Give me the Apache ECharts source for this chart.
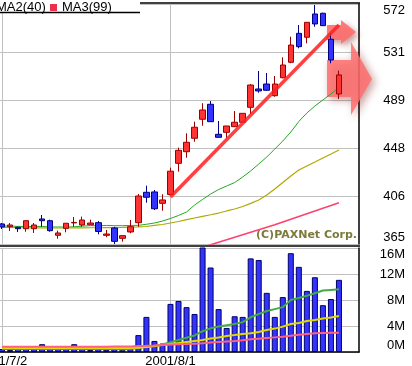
<!DOCTYPE html>
<html><head><meta charset="utf-8">
<script src="https://cdn.jsdelivr.net/npm/echarts@6/dist/echarts.min.js"></script>
<style>html,body{margin:0;padding:0;background:#fff}#c{width:412px;height:366px}</style>
</head><body><div id="c"></div>
<script>
// ---- data ----
const dates = ['2001/7/2','2001/7/3','2001/7/4','2001/7/5','2001/7/6','2001/7/9','2001/7/10','2001/7/11','2001/7/12','2001/7/13',
  '2001/7/16','2001/7/18','2001/7/19','2001/7/20','2001/7/23','2001/7/24','2001/7/25','2001/7/26','2001/7/27','2001/7/30',
  '2001/7/31','2001/8/1','2001/8/2','2001/8/3','2001/8/6','2001/8/7','2001/8/8','2001/8/9','2001/8/10','2001/8/13',
  '2001/8/14','2001/8/16','2001/8/17','2001/8/20','2001/8/21','2001/8/22','2001/8/23','2001/8/24','2001/8/27','2001/8/28',
  '2001/8/29','2001/8/30','2001/8/31','',''];
const labelDates = ['2001/7/2','2001/8/1'];
const opens  = [382.3,379.9,379.4,378.2,378.2,386.6,385.1,372.5,378.5,383.2,381.4,381.6,383.4,372.5,378.8,369.9,375.4,383.4,409.6,409.9,400.1,407.7,434.6,444.6,456.2,472.6,485.5,459.6,461.3,466.2,470.0,482.9,498.7,503.0,492.9,508.4,521.7,546.7,543.3,563.4,564.0,541.6,494.4];
const closes = [379.7,381.4,378.2,385.1,381.4,385.1,376.5,374.5,382.9,383.6,385.7,383.1,375.8,373.6,367.3,372.2,379.9,406.4,405.3,395.4,403.0,427.8,445.8,452.7,465.7,480.6,470.5,457.0,466.8,470.0,477.7,502.1,497.0,497.6,503.0,519.4,536.6,535.2,556.2,554.8,553.3,523.7,510.8];
const lows   = [377.9,376.2,375.4,375.6,374.5,379.9,375.6,369.6,375.1,379.9,379.9,381.6,373.4,370.8,365.0,367.0,374.2,379.9,400.6,394.3,393.7,407.7,427.4,439.4,453.2,467.0,470.5,457.0,456.2,466.2,470.0,477.1,495.5,497.2,492.0,507.9,520.9,533.8,538.1,552.4,553.3,520.9,490.1];
const highs  = [383.1,383.1,379.9,385.1,383.1,390.0,386.0,376.5,382.9,388.3,388.6,386.0,384.8,377.1,379.9,372.2,385.7,408.1,415.3,411.6,407.9,430.8,448.1,460.5,470.5,486.4,488.3,471.1,466.8,479.7,477.7,503.0,514.2,512.5,509.9,526.0,543.8,553.9,556.2,571.1,564.5,546.7,514.5];
const ma1 = [380.5,380.5,380.2,380.1,380.1,380.2,379.6,379.7,379.5,379.9,380.4,380.8,380.8,381.0,380.8,380.8,381.0,381.1,382.0,383.1,384.8,387.0,389.6,392.6,398.6,403.4,408.1,412.0,415.0,418.0,422.8,428.0,434.0,440.0,446.9,453.8,461.6,470.7,478.0,484.0,489.2,494.4,500.0];
const ma2 = [379.4,379.3,379.1,379.0,378.9,378.9,378.8,378.8,378.8,378.9,378.9,379.0,379.0,379.1,379.2,379.3,379.5,379.7,380.1,381.0,381.8,383.1,384.4,386.0,387.4,388.8,390.2,391.7,393.5,395.2,397.3,400.0,403.0,407.3,412.4,418.0,423.7,428.8,432.3,435.7,439.2,442.6,446.1];
const ma3 = [342.0,342.5,343.0,343.4,343.9,344.3,344.8,345.2,345.7,346.1,346.6,347.0,347.5,348.0,348.5,349.0,349.6,350.3,351.2,352.3,353.5,354.9,356.4,358.0,359.8,362.1,364.3,366.5,368.6,370.8,373.0,375.2,377.3,379.5,381.7,384.0,386.3,388.7,391.1,393.5,395.9,398.2,400.6];
const volumes = [0.45,0.3,0.55,0.5,0.55,1.2,0.7,0.5,0.55,1.2,0.7,0.3,0.55,0.35,0.55,0.35,0.5,2.6,5.4,1.7,1.3,7.4,7.85,6.9,5.85,16.1,13.0,6.6,3.7,5.5,5.4,14.4,14.15,9.1,5.4,8.45,15.2,13.1,9.4,11.5,7.2,8.15,11.1];
const vma1 = [0.45,0.45,0.44,0.45,0.46,0.47,0.46,0.46,0.46,0.47,0.46,0.45,0.45,0.45,0.45,0.44,0.45,0.6,0.75,0.9,1.15,1.5,1.85,2.2,2.55,3.2,3.64,3.93,4.1,4.3,4.6,5.34,5.85,6.3,6.6,6.9,8.0,8.3,8.65,9.05,9.45,9.55,9.65];
const vma2 = [0.6,0.6,0.6,0.6,0.6,0.6,0.6,0.6,0.6,0.6,0.6,0.6,0.6,0.6,0.6,0.6,0.62,0.66,0.77,0.92,1.08,1.23,1.38,1.54,1.7,1.85,2.08,2.23,2.46,2.6,2.77,2.88,3.08,3.38,3.6,3.9,4.3,4.46,4.77,4.92,5.15,5.3,5.54];
const vma3 = [0.82,0.82,0.82,0.82,0.82,0.82,0.82,0.82,0.82,0.82,0.82,0.82,0.82,0.82,0.83,0.84,0.86,0.92,0.95,1.0,1.08,1.15,1.2,1.23,1.28,1.34,1.45,1.54,1.62,1.7,1.82,1.95,2.05,2.15,2.25,2.35,2.5,2.66,2.78,2.88,2.92,2.95,2.97];
const trendStart = ['2001/8/1', 405.5];
const trendEnd = [41.9, 553.9];

// ---- chart ----
const candles = opens.map((o, i) => [o, closes[i], lows[i], highs[i]]);
const axisFont = 'Liberation Sans Narrow, Arial Narrow, Liberation Sans, Arial, sans-serif';
const chart = echarts.init(document.getElementById('c'), null, {renderer: 'canvas'});
const vline = {
  silent: true, symbol: ['none', 'none'], z: 1, animation: false,
  label: {show: false}, lineStyle: {color: '#c0c0c0', width: 1, type: 'solid'},
  data: labelDates.map(d => ({xAxis: d}))
};
chart.setOption({
  animation: false,
  backgroundColor: '#ffffff',
  grid: [
    {left: -2, width: 361, top: 4, height: 240, containLabel: false, outerBoundsMode: 'none'},
    {left: -2, width: 361, top: 248, height: 104, containLabel: false, outerBoundsMode: 'none'}
  ],
  xAxis: [
    {type: 'category', gridIndex: 0, data: dates, boundaryGap: true,
      axisLine: {show: false}, axisTick: {show: false}, axisLabel: {show: false}, splitLine: {show: false}},
    {type: 'category', gridIndex: 1, data: dates, boundaryGap: true,
      axisLine: {show: true, lineStyle: {color: '#000', width: 1.5}}, axisTick: {show: false},
      axisLabel: {show: true, interval: (i, v) => labelDates.indexOf(v) >= 0, margin: 3,
        color: '#000', fontSize: 13, fontFamily: axisFont, showMinLabel: true, hideOverlap: false},
      splitLine: {show: false}}
  ],
  yAxis: [
    {type: 'value', gridIndex: 0, position: 'right', min: 365, max: 572, interval: 41.4,
      axisLine: {show: true, lineStyle: {color: '#000', width: 1.5}}, axisTick: {show: false},
      axisLabel: {color: '#000', fontSize: 13, fontFamily: axisFont, align: 'right', margin: 46,
        formatter: v => String(Math.round(v)), verticalAlignMaxLabel: 'top', verticalAlignMinLabel: 'bottom'},
      splitLine: {show: true, lineStyle: {color: '#c0c0c0', width: 1}}},
    {type: 'value', gridIndex: 1, position: 'right', min: 0, max: 16, interval: 4,
      axisLine: {show: true, lineStyle: {color: '#000', width: 1.5}}, axisTick: {show: false},
      axisLabel: {color: '#000', fontSize: 13, fontFamily: axisFont, align: 'right', margin: 46,
        formatter: v => Math.round(v) + 'M', verticalAlignMaxLabel: 'top', verticalAlignMinLabel: 'bottom'},
      splitLine: {show: true, lineStyle: {color: '#c0c0c0', width: 1}}}
  ],
  series: [
    {type: 'candlestick', name: 'price', xAxisIndex: 0, yAxisIndex: 0, data: candles, barWidth: 6, z: 3,
      itemStyle: {color: '#ff3333', color0: '#3333ff', borderColor: '#990000', borderColor0: '#000080', borderWidth: 1},
      markLine: vline},
    {type: 'line', name: 'trend', xAxisIndex: 0, yAxisIndex: 0, data: [], z: 4,
      markLine: {silent: true, symbol: ['none', 'none'], z: 4, label: {show: false},
        lineStyle: {color: 'rgba(255,30,30,0.85)', width: 3.5, type: 'solid'},
        data: [[{coord: trendStart}, {coord: trendEnd}]]}},
    {type: 'line', name: 'MA1', xAxisIndex: 0, yAxisIndex: 0, data: ma1, showSymbol: false, z: 2,
      lineStyle: {color: '#22aa22', width: 1}},
    {type: 'line', name: 'MA2(40)', xAxisIndex: 0, yAxisIndex: 0, data: ma2, showSymbol: false, z: 2,
      lineStyle: {color: '#b0a800', width: 1.2}},
    {type: 'line', name: 'MA3(99)', xAxisIndex: 0, yAxisIndex: 0, data: ma3, showSymbol: false, z: 2, clip: true,
      lineStyle: {color: '#ff4070', width: 1.6}},
    {type: 'bar', name: 'volume', xAxisIndex: 1, yAxisIndex: 1, data: volumes, barWidth: 6, z: 2,
      itemStyle: {color: '#3333ff', borderColor: '#000066', borderWidth: 1},
      markLine: vline},
    {type: 'line', name: 'VMA1', xAxisIndex: 1, yAxisIndex: 1, data: vma1, showSymbol: false, z: 3,
      lineStyle: {color: '#44aa44', width: 2}},
    {type: 'line', name: 'VMA2', xAxisIndex: 1, yAxisIndex: 1, data: vma2, showSymbol: false, z: 3,
      lineStyle: {color: '#e0d800', width: 2}},
    {type: 'line', name: 'VMA3', xAxisIndex: 1, yAxisIndex: 1, data: vma3, showSymbol: false, z: 3,
      lineStyle: {color: '#ff6080', width: 2}}
  ],
  graphic: [
    // frame lines
    {type: 'line', shape: {x1: 0, y1: 3, x2: 360, y2: 3}, style: {stroke: '#000', lineWidth: 1.5}, z: 10},
    {type: 'line', shape: {x1: 0, y1: 246, x2: 360, y2: 246}, style: {stroke: '#000', lineWidth: 1.5}, z: 10},
    // legend
    {type: 'rect', shape: {x: 0, y: 0, width: 140, height: 12}, style: {fill: '#fff'}, z: 11},
    {type: 'line', shape: {x1: 0, y1: 12.5, x2: 140, y2: 12.5}, style: {stroke: '#000', lineWidth: 1.5}, z: 11},
    {type: 'text', x: -4, y: 1, style: {text: 'MA2(40)', fill: '#000', font: '13px ' + axisFont}, z: 12},
    {type: 'rect', shape: {x: 50, y: 4, width: 7, height: 7}, style: {fill: '#e8304f'}, z: 12},
    {type: 'text', x: 62, y: 1, style: {text: 'MA3(99)', fill: '#000', font: '13px ' + axisFont}, z: 12},
    // copyright
    {type: 'text', x: 256, y: 230, style: {text: '(C)PAXNet Corp.', fill: '#7a7a3a', font: 'bold 11px DejaVu Sans'}, z: 1},
    // arrow heads (decorations)
    {type: 'polygon', shape: {points: [[327, 25], [341, 25], [341, 20], [356, 32], [341, 44], [341, 40], [327, 40]]},
      style: {fill: 'rgba(255,110,110,0.9)', shadowBlur: 6, shadowColor: 'rgba(120,0,0,0.45)', shadowOffsetX: 3, shadowOffsetY: 3}, z: 1},
    {type: 'polygon', shape: {points: [[327, 60], [351, 60], [351, 42], [372, 79], [351, 115], [351, 97], [327, 97]]},
      style: {fill: 'rgba(255,110,110,0.85)', shadowBlur: 8, shadowColor: 'rgba(120,0,0,0.45)', shadowOffsetX: 3, shadowOffsetY: 3}, z: 1}
  ]
});
</script></body></html>
